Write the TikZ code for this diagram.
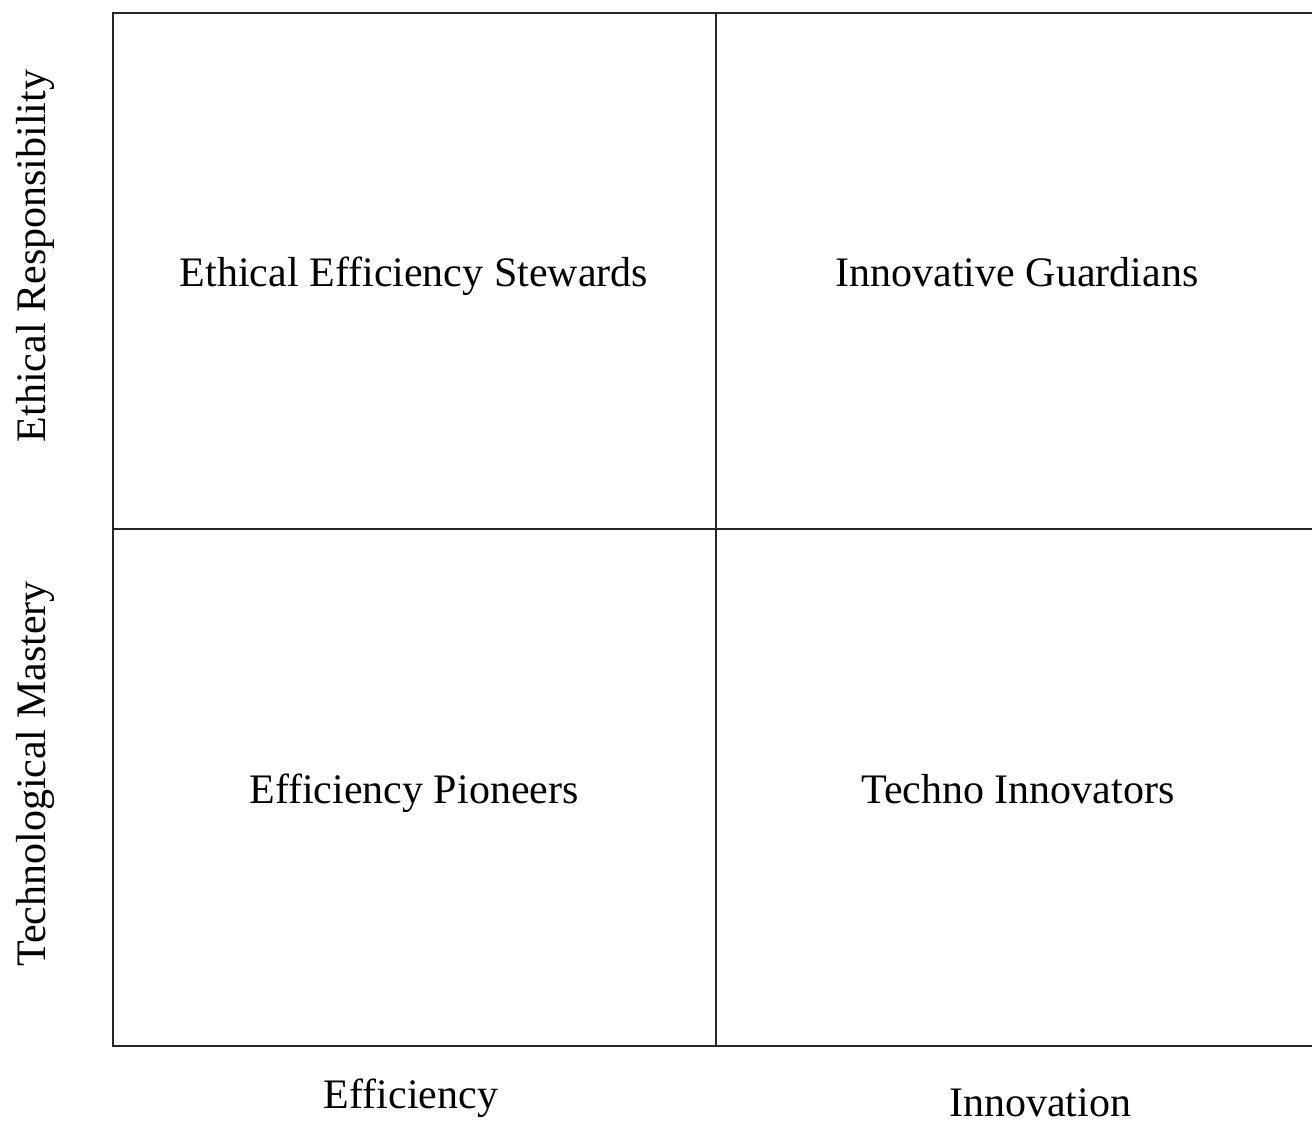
\documentclass[tikz,border=0pt]{standalone}
\usepackage{fontspec}
\setmainfont{Liberation Serif}
\begin{document}
\begin{tikzpicture}[x=1pt,y=-1pt,
  gridline/.style={line width=2pt,draw=black!85},
  quadlabel/.style={anchor=base,inner sep=0pt,font=\fontsize{42}{50}\selectfont},
  axislabel/.style={anchor=base,inner sep=0pt,font=\fontsize{42}{50}\selectfont}]
\useasboundingbox (0,0) rectangle (1312,1123);
\clip (0,0) rectangle (1312,1123);
\coordinate (tl) at (113,13);
\coordinate (tm) at (716,13);
\coordinate (tr) at (1330,13);
\coordinate (ml) at (113,529);
\coordinate (mr) at (1330,529);
\coordinate (bl) at (113,1046);
\coordinate (bm) at (716,1046);
\coordinate (br) at (1330,1046);
\draw[gridline] (tr) -- (tl) -- (bl) -- (br);
\draw[gridline] (ml) -- (mr);
\draw[gridline] (tm) -- (bm);
\node[quadlabel] (ees) at (414,287) {Ethical Efficiency Stewards};
\node[quadlabel] (ig) at (1017,287) {Innovative Guardians};
\node[quadlabel] (ep) at (414,803) {Efficiency Pioneers};
\node[quadlabel] (ti) at (1018,803) {Techno Innovators};
\node[axislabel] (xeff) at (411,1108) {Efficiency};
\node[axislabel] (xinn) at (1040,1116) {Innovation};
\node[axislabel,rotate=90] (yeth) at (45,256) {Ethical Responsibility};
\node[axislabel,rotate=90] (ytech) at (45,774) {Technological Mastery};
\end{tikzpicture}
\end{document}
